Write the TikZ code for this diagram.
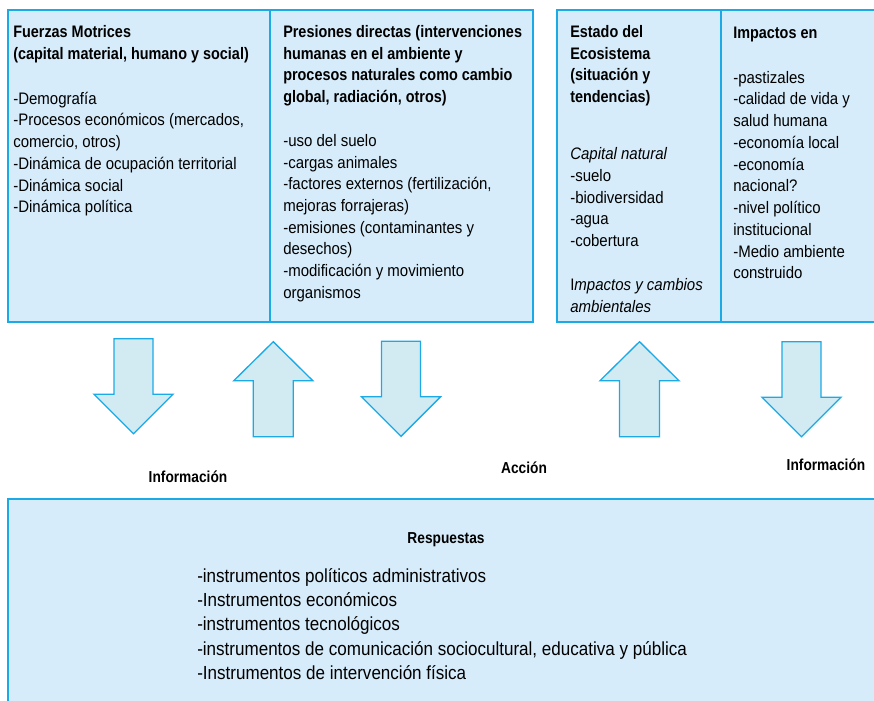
\documentclass[tikz,border=0pt]{standalone}
\usepackage{fontspec}
\setmainfont{Liberation Sans}[FakeStretch=0.9, BoldFeatures={FakeStretch=0.865}]
\usetikzlibrary{positioning}
\definecolor{cajaazul}{RGB}{214,236,250}
\definecolor{bordeazul}{RGB}{28,170,230}
\definecolor{flechaazul}{RGB}{210,235,242}
\tikzset{
  caja/.style={draw=bordeazul, fill=cajaazul, line width=1.2pt},
  texto/.style={anchor=north west, inner sep=0pt, align=left,
    font=\fontsize{12.5}{16.3}\selectfont},
  flecha/.style={draw=bordeazul, fill=flechaazul, line width=1pt},
  etiqueta/.style={inner sep=0pt, font=\fontsize{11.9}{13}\selectfont\bfseries}
}

\begin{document}
\begin{tikzpicture}[x=0.75pt,y=-0.75pt]
  \clip (0,0) rectangle (874,700);

  % cajas superiores
  \draw[caja] (8,10) rectangle (270,322);
  \draw[caja] (270,10) rectangle (533,322);
  \draw[caja] (557,10) rectangle (721,322);
  \draw[caja] (721,10) rectangle (884,322);

  % caja de respuestas
  \draw[caja] (8,499) rectangle (884,712);

  \node[texto] (fuerzas) at (13,25) {\textbf{Fuerzas Motrices}\\
    \textbf{(capital material, humano y social)}\\[17.5pt]
    -Demografía\\
    -Procesos económicos (mercados,\\
    comercio, otros)\\
    -Dinámica de ocupación territorial\\
    -Dinámica social\\
    -Dinámica política};

  \node[texto] (presiones) at (283,25) {\textbf{Presiones directas (intervenciones}\\
    \textbf{humanas en el ambiente y}\\
    \textbf{procesos naturales como cambio}\\
    \textbf{global, radiación, otros)}\\[16.5pt]
    -uso del suelo\\
    -cargas animales\\
    -factores externos (fertilización,\\
    mejoras forrajeras)\\
    -emisiones (contaminantes y\\
    desechos)\\
    -modificación y movimiento\\
    organismos};

  \node[texto] (estado) at (570,25) {\textbf{Estado del}\\
    \textbf{Ecosistema}\\
    \textbf{(situación y}\\
    \textbf{tendencias)}\\[26.5pt]
    \textit{Capital natural}\\
    -suelo\\
    -biodiversidad\\
    -agua\\
    -cobertura\\[17pt]
    I\textit{mpactos y cambios}\\
    \textit{ambientales}};

  \node[texto] (impactos) at (733,27) {\textbf{Impactos en}\\[17pt]
    -pastizales\\
    -calidad de vida y\\
    salud humana\\
    -economía local\\
    -economía\\
    nacional?\\
    -nivel político\\
    institucional\\
    -Medio ambiente\\
    construido};

  % flechas hacia abajo
  \foreach \x/\y in {133.5/338.7, 401/341.3, 801.5/341.7}
    \draw[flecha] (\x-19.5,\y) -- (\x+19.5,\y) -- (\x+19.5,\y+55.5)
      -- (\x+39.5,\y+55.5) -- (\x,\y+95) -- (\x-39.5,\y+55.5)
      -- (\x-19.5,\y+55.5) -- cycle;

  % flechas hacia arriba
  \foreach \x/\y in {273.3/341.7, 639.5/341.7}
    \draw[flecha] (\x,\y) -- (\x+39.5,\y+39) -- (\x+20,\y+39)
      -- (\x+20,\y+95) -- (\x-20,\y+95) -- (\x-20,\y+39)
      -- (\x-39.5,\y+39) -- cycle;

  \node[etiqueta] (info1) at (188,477) {Información};
  \node[etiqueta] (accion) at (524,468) {Acción};
  \node[etiqueta] (info2) at (826,465) {Información};

  \node[etiqueta] (respuestas) at (446,540) {Respuestas};
  \node[texto, font=\fontsize{14.2}{18.2}\selectfont] (instrumentos) at (197,568)
    {-instrumentos políticos administrativos\\
    -Instrumentos económicos\\
    -instrumentos tecnológicos\\
    -instrumentos de comunicación sociocultural, educativa y pública\\
    -Instrumentos de intervención física};
\end{tikzpicture}
\end{document}
